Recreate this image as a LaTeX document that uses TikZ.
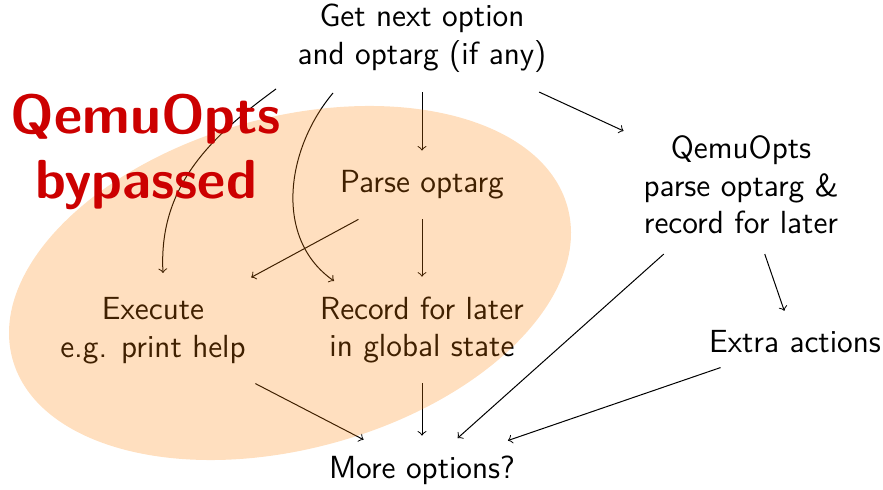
\documentclass[tikz,border=0pt]{standalone}
\usepackage{tikz}
\begin{document}
\begin{tikzpicture}[x=1pt,y=1pt,
  lbl/.style={align=center, inner sep=4pt, outer sep=4pt,
    font=\sffamily\fontsize{12.8}{15}\selectfont},
  arr/.style={->, line width=0.4pt},
  shade/.style={fill=orange, opacity=0.25},
  alert/.style={text=red!80!black, align=center,
    font=\sffamily\bfseries\fontsize{22}{26}\selectfont},
]
\useasboundingbox (0,0) rectangle (353.2,195.6);

% option-processing steps
\node[lbl] (top)    at (168.8,180.4) {Get next option\\and optarg (if any)};
\node[lbl] (parse)  at (168.8,121.6) {Parse optarg};
\node[lbl] (qparse) at (296.4,121.6) {QemuOpts\\parse optarg \&\\record for later};
\node[lbl] (exec)   at (61.2,63.4)   {Execute\\e.g. print help};
\node[lbl] (rec)    at (168.8,63.6)  {Record for later\\in global state};
\node[lbl] (extra)  at (318,58.8)    {Extra actions};
\node[lbl] (more)   at (168.8,7.6)   {More options?};

% connectors
\draw[arr] ([shift={(-58.4,-20.4)}]top.center) to[out=-144, in=93]
  ([shift={(4,23)}]exec.center);
\draw[arr] ([shift={(-35.6,-22)}]top.center) to[out=-130, in=145]
  ([shift={(-35.2,19.6)}]rec.center);
\draw[arr] (top) -- (parse);
\draw[arr] (top) -- (qparse);
\draw[arr] (parse) -- (exec);
\draw[arr] (parse) -- (rec);
\draw[arr, shorten >=-3.5pt] (exec) -- (more);
\draw[arr] (rec) -- (more);
\draw[arr, shorten >=-1.5pt] (qparse) -- (more);
\draw[arr] (qparse) -- (extra);
\draw[arr, shorten <=-7pt, shorten >=-6pt] (extra) -- (more);

% region handled without QemuOpts
\fill[shade, rotate around={15.3:(116,82.4)}] (116,82.4) ellipse [x radius=115.1, y radius=66.3];
\node[alert] (bypass) at (58.4,134.8) {QemuOpts\\bypassed};
\end{tikzpicture}
\end{document}
